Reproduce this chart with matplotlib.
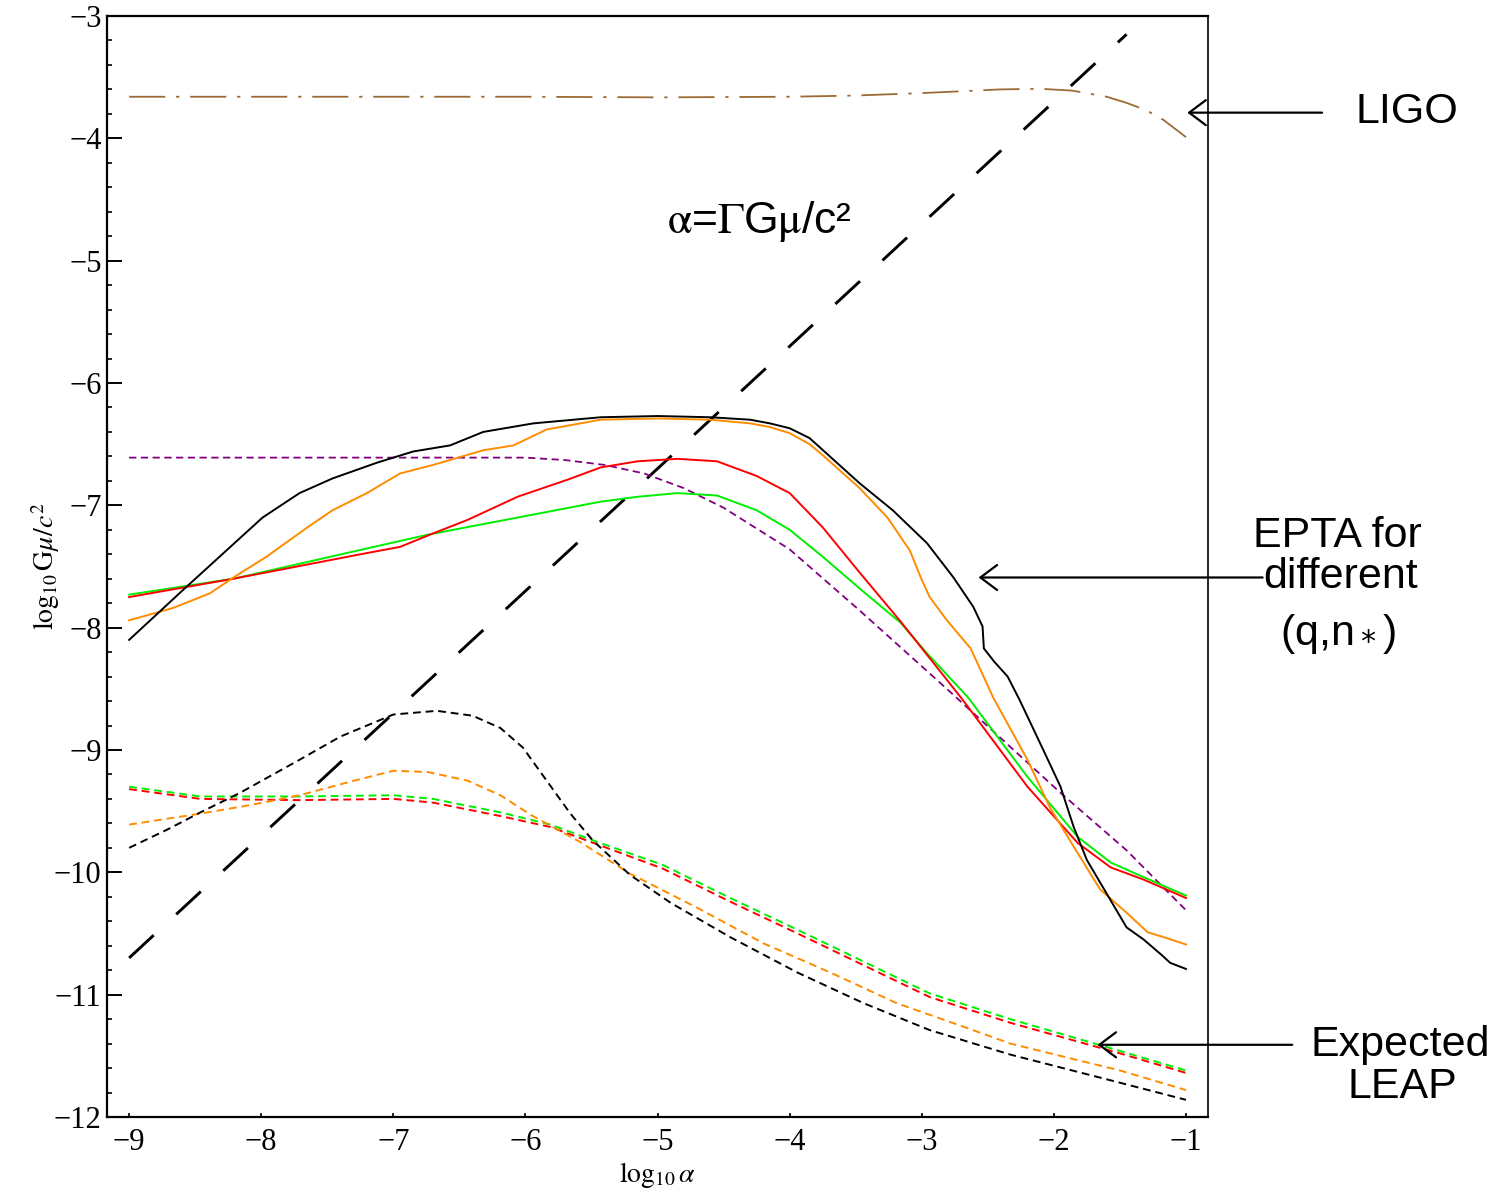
import numpy as np
import matplotlib
matplotlib.use("Agg")
import matplotlib.pyplot as plt
from matplotlib.ticker import MultipleLocator

plt.rcParams['font.family'] = ['Liberation Serif', 'DejaVu Serif']
plt.rcParams['mathtext.fontset'] = 'stix'
plt.rcParams['lines.solid_joinstyle'] = 'round'
plt.rcParams['lines.dash_joinstyle'] = 'round'

# EPTA bounds (solid) for the different (q, n*) choices
epta_black_x = [-9.0, -8.59, -7.99, -7.71, -7.46, -7.12, -6.85, -6.57, -6.32, -5.94, -5.43, -5.0, -4.6, -4.3,
                -4.15, -4.0, -3.85, -3.47, -3.22, -2.96, -2.76, -2.61, -2.54, -2.53, -2.45, -2.35, -2.26, -2.08,
                -1.95, -1.85, -1.75, -1.57, -1.45, -1.32, -1.18, -1.12, -1.0]
epta_black_y = [-8.10, -7.69, -7.10, -6.90, -6.78, -6.65, -6.56, -6.51, -6.40, -6.33, -6.28, -6.27, -6.28, -6.30,
                -6.33, -6.37, -6.45, -6.82, -7.04, -7.31, -7.59, -7.83, -7.99, -8.17, -8.28, -8.40, -8.59, -9.00,
                -9.30, -9.63, -9.90, -10.23, -10.45, -10.55, -10.68, -10.74, -10.79]

epta_orange_x = [-9.0, -8.67, -8.39, -8.21, -7.96, -7.65, -7.46, -7.20, -6.95, -6.70, -6.32, -6.09, -5.84, -5.43,
                 -5.0, -4.6, -4.3, -4.15, -4.0, -3.85, -3.75, -3.47, -3.26, -3.09, -3.0, -2.94, -2.81, -2.63, -2.46,
                 -2.20, -2.03, -1.85, -1.65, -1.45, -1.37, -1.29, -1.14, -1.0]
epta_orange_y = [-7.94, -7.84, -7.72, -7.59, -7.42, -7.18, -7.04, -6.90, -6.74, -6.67, -6.55, -6.51, -6.38, -6.30,
                 -6.29, -6.30, -6.33, -6.36, -6.41, -6.50, -6.59, -6.86, -7.10, -7.37, -7.61, -7.75, -7.94, -8.17,
                 -8.57, -9.08, -9.47, -9.79, -10.14, -10.33, -10.41, -10.49, -10.54, -10.59]

epta_red_x = [-9.0, -8.21, -7.20, -6.95, -6.70, -6.44, -6.06, -5.68, -5.43, -5.15, -4.85, -4.55, -4.25, -4.0,
              -3.75, -3.47, -3.16, -2.69, -2.20, -1.82, -1.57, -1.32, -1.0]
epta_red_y = [-7.75, -7.60, -7.39, -7.34, -7.23, -7.12, -6.93, -6.79, -6.69, -6.64, -6.62, -6.64, -6.76, -6.90,
              -7.18, -7.55, -7.95, -8.59, -9.30, -9.76, -9.96, -10.06, -10.21]

epta_green_x = [-9.0, -8.21, -6.74, -6.06, -5.43, -5.15, -4.85, -4.55, -4.25, -4.0, -3.75, -3.47, -3.16, -2.96,
                -2.65, -2.20, -1.82, -1.57, -1.32, -1.0]
epta_green_y = [-7.73, -7.60, -7.24, -7.10, -6.97, -6.93, -6.90, -6.92, -7.04, -7.20, -7.42, -7.68, -7.96, -8.21,
                -8.57, -9.22, -9.71, -9.92, -10.04, -10.19]

epta_purple_x = [-9.0, -6.0, -5.7, -5.4, -5.1, -4.8, -4.5, -4.0, -3.47, -2.78, -1.95, -1.45, -1.0]
epta_purple_y = [-6.61, -6.61, -6.63, -6.67, -6.74, -6.86, -7.02, -7.36, -7.86, -8.53, -9.35, -9.82, -10.31]

# expected LEAP sensitivity (dashed)
leap_black_x = [-9.0, -8.71, -8.46, -8.16, -7.91, -7.71, -7.40, -7.0, -6.67, -6.40, -6.19, -6.02, -5.84, -5.66,
                -5.49, -5.21, -4.90, -4.45, -3.94, -3.44, -2.94, -2.33, -1.5, -1.0]
leap_black_y = [-9.80, -9.65, -9.51, -9.35, -9.20, -9.08, -8.89, -8.71, -8.68, -8.72, -8.82, -8.98, -9.25, -9.52,
                -9.74, -10.02, -10.25, -10.53, -10.82, -11.07, -11.29, -11.49, -11.72, -11.86]

leap_orange_x = [-9.0, -8.46, -8.08, -7.71, -7.33, -7.0, -6.74, -6.44, -6.19, -5.96, -5.59, -5.21, -4.70, -4.20,
                 -3.69, -3.19, -2.69, -2.33, -1.5, -1.0]
leap_orange_y = [-9.61, -9.52, -9.45, -9.37, -9.26, -9.17, -9.18, -9.25, -9.37, -9.53, -9.75, -10.01, -10.29, -10.58,
                 -10.82, -11.07, -11.26, -11.40, -11.62, -11.78]

leap_gr_x = [-9.0, -8.46, -7.71, -7.0, -6.70, -6.19, -5.81, -5.46, -4.96, -4.45, -3.94, -3.44, -2.94, -2.33,
             -1.5, -1.0]
leap_green_y = [-9.30, -9.38, -9.38, -9.37, -9.40, -9.51, -9.61, -9.75, -9.94, -10.21, -10.47, -10.73, -10.99,
                -11.20, -11.46, -11.62]
leap_red_y = [-9.32, -9.40, -9.41, -9.40, -9.43, -9.54, -9.63, -9.77, -9.97, -10.24, -10.50, -10.76, -11.02,
              -11.23, -11.48, -11.64]

# LIGO bound
ligo_x = [-9.0, -8.0, -7.0, -6.0, -5.0, -4.0, -3.5, -3.0, -2.6, -2.41, -2.1, -1.86, -1.6, -1.45, -1.3, -1.17, -1.0]
ligo_y = [-3.66, -3.66, -3.66, -3.66, -3.665, -3.66, -3.65, -3.63, -3.61, -3.60, -3.595, -3.61, -3.66, -3.71,
          -3.77, -3.85, -3.99]

# alpha = Gamma G mu / c^2 line
log_gamma = 1.7
alpha_x = np.array([-9.0, -1.45])

fig = plt.figure(figsize=(15.08, 11.95), dpi=100)
ax = fig.add_axes([0.0710, 0.0653, 0.7301, 0.9213])

ax.plot(ligo_x, ligo_y, color='#9c6a36', lw=1.3, dashes=(20, 6, 1.8, 6))
ax.plot(alpha_x, alpha_x - log_gamma, color='black', lw=2.1, dashes=(11.5, 10.5))

ax.plot(epta_purple_x, epta_purple_y, color='#800080', lw=1.3, dashes=(4, 2.5))
ax.plot(epta_green_x, epta_green_y, color='#00ee00', lw=1.4)
ax.plot(epta_red_x, epta_red_y, color='#ff0000', lw=1.4)
ax.plot(epta_orange_x, epta_orange_y, color='#ff8c00', lw=1.4)
ax.plot(epta_black_x, epta_black_y, color='black', lw=1.4)

ax.plot(leap_gr_x, leap_red_y, color='#ff0000', lw=1.4, dashes=(4, 2.5))
ax.plot(leap_gr_x, leap_green_y, color='#00ee00', lw=1.4, dashes=(4, 2.5))
ax.plot(leap_orange_x, leap_orange_y, color='#ff8c00', lw=1.4, dashes=(4, 2.5))
ax.plot(leap_black_x, leap_black_y, color='black', lw=1.4, dashes=(4, 2.5))

ax.set_xlim(-9.167, -0.833)
ax.set_ylim(-12, -3)
ax.xaxis.set_major_locator(MultipleLocator(1))
ax.yaxis.set_major_locator(MultipleLocator(1))
ax.yaxis.set_minor_locator(MultipleLocator(0.2))
ax.tick_params(axis='y', which='major', direction='in', length=11, width=1.4, labelsize=22, pad=4)
ax.tick_params(axis='y', which='minor', direction='in', length=3.5, width=1.2)
ax.tick_params(axis='x', which='major', direction='in', length=3, width=1.2, labelsize=22, pad=8)
for side in ['left', 'bottom', 'top']:
    ax.spines[side].set_linewidth(1.6)
ax.spines['right'].set_linewidth(1.2)

ax.set_xlabel(r'$\log_{10}\alpha$', fontsize=20, labelpad=2)
ax.set_ylabel(r'$\log_{10}\mathrm{G}\mu/c^2$', fontsize=20, labelpad=-6)

sans = 'Liberation Sans'
ax.text(-4.23, -4.774, r'$\mathrm{\alpha}$=$\Gamma$G$\mathrm{\mu}$/c²', family=sans, math_fontfamily='stix',
        fontsize=32, ha='center', va='baseline')

arrow = dict(arrowstyle='->,head_length=0.6,head_width=0.45', lw=1.6, color='black',
             shrinkA=0, shrinkB=0, mutation_scale=20)
ax.annotate('', xy=(-0.99, -3.79), xytext=(0.03, -3.79), arrowprops=arrow, annotation_clip=False)
ax.annotate('', xy=(-2.57, -7.59), xytext=(-0.42, -7.59), arrowprops=arrow, annotation_clip=False)
ax.annotate('', xy=(-1.67, -11.41), xytext=(-0.196, -11.41), arrowprops=arrow, annotation_clip=False)

ax.text(0.675, -3.875, 'LIGO', family=sans, fontsize=31, ha='center', va='baseline', clip_on=False)
ax.text(0.144, -7.341, 'EPTA for', family=sans, fontsize=31, ha='center', va='baseline', clip_on=False)
ax.text(0.167, -7.676, 'different', family=sans, fontsize=31, ha='center', va='baseline', clip_on=False)
ax.text(0.152, -8.142, r'(q,n$_*$)', family=sans, math_fontfamily='dejavusans', fontsize=31,
        ha='center', va='baseline', clip_on=False)
ax.text(0.622, -11.502, 'Expected', family=sans, fontsize=31, ha='center', va='baseline', clip_on=False)
ax.text(0.637, -11.845, 'LEAP', family=sans, fontsize=31, ha='center', va='baseline', clip_on=False)

fig.savefig('out.png', dpi=100)
